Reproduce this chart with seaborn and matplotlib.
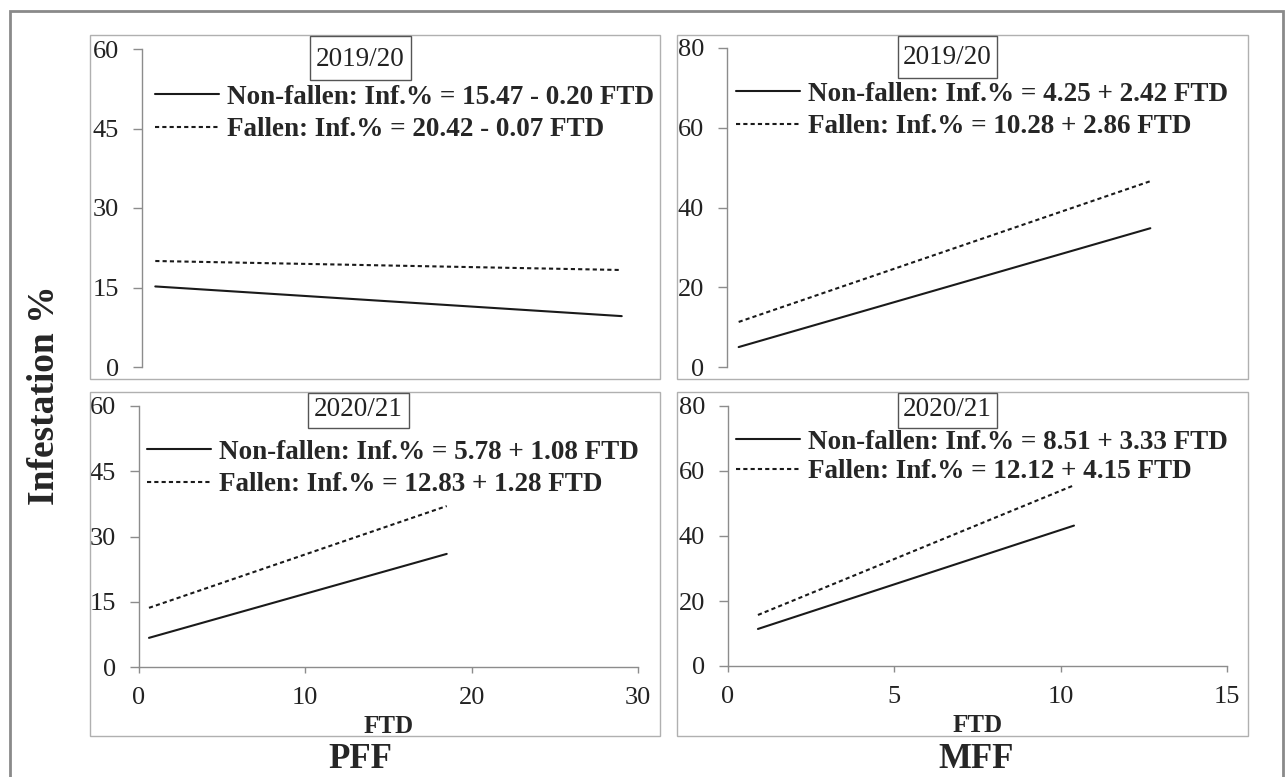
import matplotlib
matplotlib.use("Agg")
import matplotlib.pyplot as plt
from matplotlib.patches import Rectangle
import seaborn as sns
import pandas as pd

# ---------------- data ----------------
panel_names = ["PFF", "MFF"]
seasons = ["2019/20", "2020/21"]
series_types = ["Non-fallen", "Fallen"]

pff_1920_x = [0.8, 28.9]
pff_1920_nonfallen = [15.2, 9.6]
pff_1920_fallen = [20.0, 18.3]

mff_1920_x = [0.35, 12.7]
mff_1920_nonfallen = [5.0, 34.8]
mff_1920_fallen = [11.3, 46.6]

pff_2021_x = [0.6, 18.5]
pff_2021_nonfallen = [6.7, 26.0]
pff_2021_fallen = [13.6, 37.0]

mff_2021_x = [0.9, 10.4]
mff_2021_nonfallen = [11.4, 43.2]
mff_2021_fallen = [15.7, 55.6]

eq_pff_1920 = ["Non-fallen: Inf.% = 15.47 - 0.20 FTD", "Fallen: Inf.% = 20.42 - 0.07 FTD"]
eq_mff_1920 = ["Non-fallen: Inf.% = 4.25 + 2.42 FTD", "Fallen: Inf.% = 10.28 + 2.86 FTD"]
eq_pff_2021 = ["Non-fallen: Inf.% = 5.78 + 1.08 FTD", "Fallen: Inf.% = 12.83 + 1.28 FTD"]
eq_mff_2021 = ["Non-fallen: Inf.% = 8.51 + 3.33 FTD", "Fallen: Inf.% = 12.12 + 4.15 FTD"]

pff_yticks = [0, 15, 30, 45, 60]
mff_yticks = [0, 20, 40, 60, 80]
pff_xticks = [0, 10, 20, 30]
mff_xticks = [0, 5, 10, 15]

# ---------------- style ----------------
sns.set_style("white")
plt.rcParams["font.family"] = ["Liberation Serif", "DejaVu Serif"]

W, H = 1286, 777
fig = plt.figure(figsize=(W / 100, H / 100), dpi=100)
fig.patch.set_facecolor("white")


def fx(px):
    return px / W


def fy(py):
    return 1 - py / H


def add_axes_px(x0, x1, y_top, y_bot):
    return fig.add_axes([fx(x0), fy(y_bot), fx(x1 - x0), (y_bot - y_top) / H])


def rect_px(x0, y0, x1, y1, color, lw, fill=False, z=0):
    fig.patches.append(Rectangle((fx(x0), fy(y1)), fx(x1 - x0), (y1 - y0) / H,
                                 transform=fig.transFigure, fill=fill,
                                 facecolor="white", edgecolor=color, linewidth=lw,
                                 zorder=z))


# outer frame and chart-area boxes
rect_px(10, 11, 1283, 800, "#8a8a8a", 2.0)
rect_px(90, 35, 660, 379, "#b0b0b0", 1.0)
rect_px(677, 35, 1248, 379, "#b0b0b0", 1.0)
rect_px(90, 392, 660, 736, "#b0b0b0", 1.0)
rect_px(677, 392, 1248, 736, "#b0b0b0", 1.0)

panels = [
    dict(pos=(142, 640, 49, 367), x=pff_1920_x, nf=pff_1920_nonfallen, f=pff_1920_fallen,
         eq=eq_pff_1920, season=seasons[0], yt=pff_yticks, xt=pff_xticks, bottom=False,
         leg=(155, 113.5), ls=0.284, box=(310, 36, 411, 80), ty=59),
    dict(pos=(727, 1227, 48, 367), x=mff_1920_x, nf=mff_1920_nonfallen, f=mff_1920_fallen,
         eq=eq_mff_1920, season=seasons[0], yt=mff_yticks, xt=mff_xticks, bottom=False,
         leg=(736, 110.5), ls=0.284, box=(898, 36, 997, 78), ty=58),
    dict(pos=(139, 638, 406, 667), x=pff_2021_x, nf=pff_2021_nonfallen, f=pff_2021_fallen,
         eq=eq_pff_2021, season=seasons[1], yt=pff_yticks, xt=pff_xticks, bottom=True,
         leg=(147, 468.5), ls=0.284, box=(308, 393, 409, 428), ty=410),
    dict(pos=(728, 1227, 406, 666), x=mff_2021_x, nf=mff_2021_nonfallen, f=mff_2021_fallen,
         eq=eq_mff_2021, season=seasons[1], yt=mff_yticks, xt=mff_xticks, bottom=True,
         leg=(736, 457), ls=0.174, box=(898, 393, 997, 428), ty=410),
]

line_color = "#1a1a1a"
axis_color = "#8c8c8c"

for p in panels:
    x0, x1, yt_px, yb_px = p["pos"]
    ax = add_axes_px(x0, x1, yt_px, yb_px)
    ax.set_facecolor("none")
    df = pd.DataFrame({
        "FTD": p["x"] + p["x"],
        "Inf": p["nf"] + p["f"],
        "type": [series_types[0]] * len(p["x"]) + [series_types[1]] * len(p["x"]),
    })
    sns.lineplot(data=df, x="FTD", y="Inf", style="type", style_order=series_types,
                 dashes={"Non-fallen": "", "Fallen": (2.0, 1.5)},
                 color=line_color, linewidth=1.5, legend=False, ax=ax)
    ax.set_xlim(p["xt"][0], p["xt"][-1])
    ax.set_ylim(p["yt"][0], p["yt"][-1])
    ax.set_yticks(p["yt"])
    ax.set_xticks(p["xt"])
    for s in ["top", "right"]:
        ax.spines[s].set_visible(False)
    ax.spines["left"].set_color(axis_color)
    ax.spines["left"].set_linewidth(1.0)
    ax.tick_params(axis="y", direction="out", length=6.5, width=1.0, color=axis_color,
                   labelsize=19, pad=10, labelcolor="#222222", left=True)
    if p["bottom"]:
        ax.spines["bottom"].set_color(axis_color)
        ax.spines["bottom"].set_linewidth(1.0)
        ax.tick_params(axis="x", direction="out", length=4.5, width=1.0, color=axis_color,
                       labelsize=19, pad=10, labelcolor="#222222", bottom=True)
        ax.set_xlabel("FTD", fontsize=18, fontweight="bold", labelpad=4)
    else:
        ax.spines["bottom"].set_visible(False)
        ax.tick_params(axis="x", bottom=False, labelbottom=False)
        ax.set_xlabel("")
    ax.set_ylabel("")
    ax.grid(False)

    handles = ax.get_lines()[:2]
    lx, ly = p["leg"]
    ax.legend(handles, p["eq"], loc="center left", bbox_to_anchor=(fx(lx), fy(ly)),
              bbox_transform=fig.transFigure, frameon=False, borderpad=0,
              borderaxespad=0, handlelength=2.35, handletextpad=0.3,
              labelspacing=p["ls"],
              prop={"family": "Liberation Serif", "weight": "bold", "size": 19.5})

    bx0, by0, bx1, by1 = p["box"]
    rect_px(bx0, by0, bx1, by1, "#555555", 1.0, fill=True, z=5)
    fig.text(fx((bx0 + bx1) / 2), fy(p["ty"]), p["season"], ha="center", va="center",
             fontsize=19.5, color="#222222", zorder=6)

# column labels and shared y label
fig.text(fx(360), fy(760), panel_names[0], ha="center", va="center", fontsize=25,
         fontweight="bold")
fig.text(fx(976), fy(760), panel_names[1], ha="center", va="center", fontsize=25,
         fontweight="bold")
fig.text(fx(45), fy(395), "Infestation %", ha="center", va="center", rotation=90,
         fontsize=27, fontweight="bold")

fig.savefig("out.png", dpi=100, facecolor="white")
